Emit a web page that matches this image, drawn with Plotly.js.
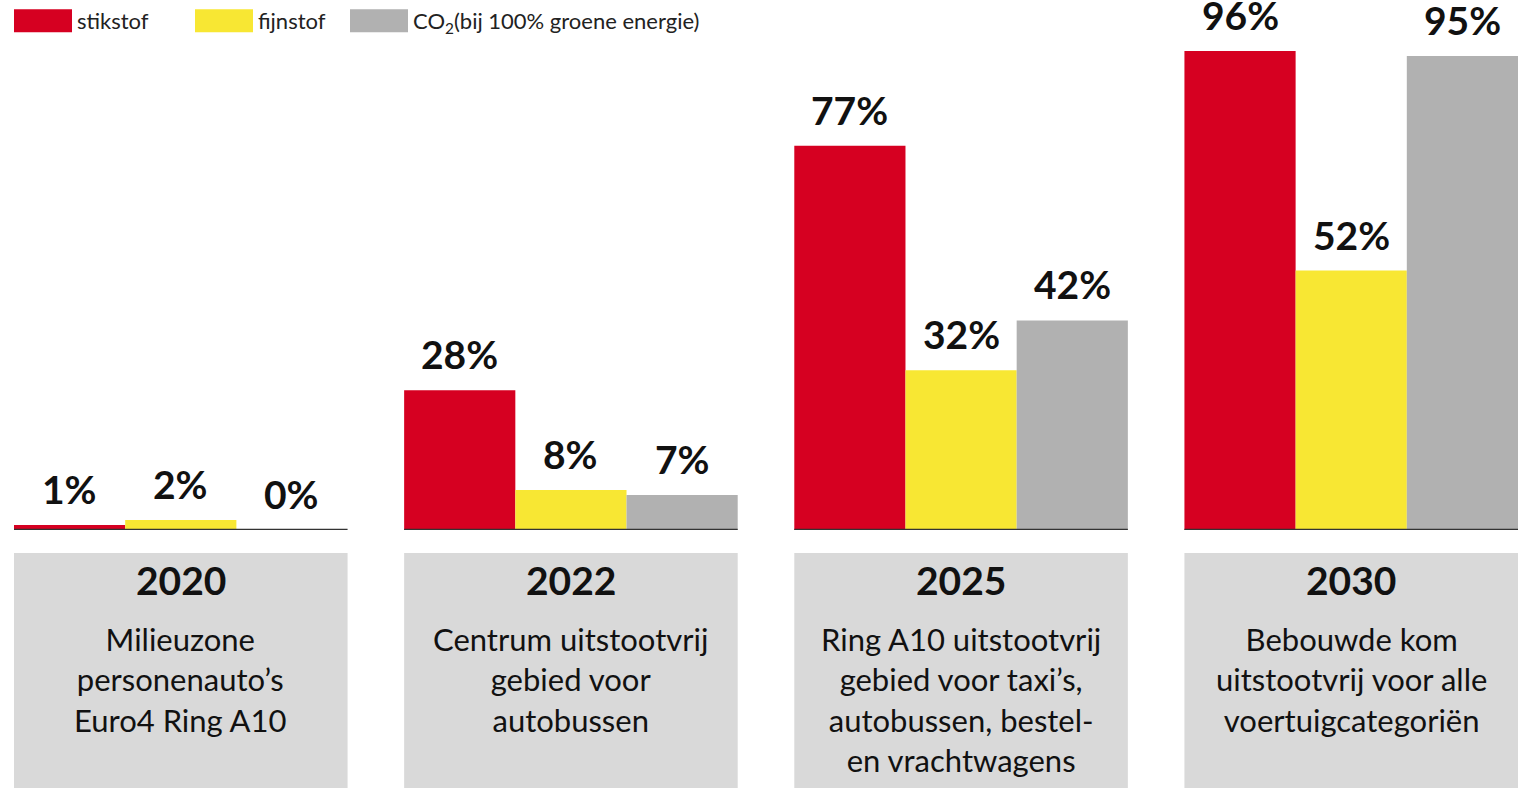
<!DOCTYPE html>
<html>
<head>
<meta charset="utf-8">
<script src="https://cdn.plot.ly/plotly-3.0.1.min.js"></script>
<style>
html,body{margin:0;padding:0;background:#fff;}
#chart{width:1518px;height:788px;}
</style>
</head>
<body>
<div id="chart"></div>
<script>
// ---- data ----
const years = ["2020", "2022", "2025", "2030"];
const descriptions = [
  "Milieuzone<br>personenauto’s<br>Euro4 Ring A10",
  "Centrum uitstootvrij<br>gebied voor<br>autobussen",
  "Ring A10 uitstootvrij<br>gebied voor taxi’s,<br>autobussen, bestel-<br>en vrachtwagens",
  "Bebouwde kom<br>uitstootvrij voor alle<br>voertuigcategoriën"
];
const seriesNames = ["stikstof", "fijnstof", "CO<sub>2</sub>(bij 100% groene energie)"];
const stikstof = [1, 28, 77, 96];
const fijnstof = [2, 8, 32, 52];
const co2 = [0, 7, 42, 95];

// ---- style ----
const colors = ["#d60021", "#f8e733", "#b1b1b1"];
const FONT = "Lato, 'Open Sans', sans-serif";
const bargap = 0.145;
const half = (1 - bargap) / 2;
const barW = (1 - bargap) / 3;
const legendLeft = [14, 195, 350];   // px positions of legend swatches

const seriesValues = [stikstof, fijnstof, co2];
const traces = seriesValues.map((vals, k) => ({
  type: "bar",
  name: seriesNames[k],
  x: years.map((_, i) => i),
  y: vals,
  width: barW,
  offset: -half + k * barW,
  marker: {color: colors[k], line: {width: 0}},
  hoverinfo: "skip"
}));

const shapes = [];
const annotations = [];
years.forEach((yr, i) => {
  shapes.push({
    type: "rect", xref: "x", yref: "paper",
    x0: i - half, x1: i + half, y0: -0.046, y1: -0.52,
    fillcolor: "#d9d9d9", line: {width: 0}, layer: "below"
  });
  shapes.push({
    type: "line", xref: "x", yref: "y",
    x0: i - half, x1: i + half, y0: 0, y1: 0,
    line: {color: "#333", width: 2.5}, layer: "above"
  });
  annotations.push({
    xref: "x", yref: "paper", x: i, y: -0.1, yanchor: "middle",
    text: "<b>" + yr + "</b>", showarrow: false,
    font: {family: FONT, size: 39, color: "#111"}
  });
  annotations.push({
    xref: "x", yref: "paper", x: i, y: -0.176, yanchor: "top",
    text: descriptions[i], showarrow: false, align: "center",
    font: {family: FONT, size: 31, color: "#111"}
  });
});
// value labels above bars
seriesValues.forEach((vals, k) => {
  vals.forEach((v, i) => {
    annotations.push({
      xref: "x", yref: "y", x: i - half + (k + 0.5) * barW, y: v,
      yanchor: "bottom", yshift: 11, showarrow: false,
      text: "<b>" + v + "%</b>",
      font: {family: FONT, size: 39, color: "#111"}
    });
  });
});

const layout = {
  width: 1518, height: 788,
  margin: {l: 14, r: 0, t: 30, b: 258},
  paper_bgcolor: "#fff", plot_bgcolor: "#fff",
  barmode: "overlay",
  xaxis: {range: [-0.4275, 3.4275], showticklabels: false,
          showgrid: false, zeroline: false, showline: false, fixedrange: true},
  yaxis: {range: [0, 100], showticklabels: false, showgrid: false,
          zeroline: false, showline: false, fixedrange: true},
  showlegend: true,
  legend: {orientation: "h", x: 0, xanchor: "left", y: 1.02, yanchor: "middle",
           itemwidth: 58, font: {family: FONT, size: 22, color: "#222"},
           bgcolor: "rgba(0,0,0,0)", traceorder: "normal", itemclick: false},
  shapes: shapes,
  annotations: annotations,
  font: {family: FONT}
};

Plotly.newPlot("chart", traces, layout, {displayModeBar: false, staticPlot: true}).then(gd => {
  gd.querySelectorAll(".legend, .legend *").forEach(el => el.removeAttribute("clip-path"));
  const items = gd.querySelectorAll(".legend .traces");
  items.forEach((g, k) => {
    const p = g.querySelector(".legendpoints path");
    if (!p) return;
    p.setAttribute("d", "M29,11.5H-29V-11.5H29Z");
    const left = p.getBoundingClientRect().left;
    const m = /translate\(\s*([-\d.]+)[ ,]+([-\d.]+)\s*\)/.exec(g.getAttribute("transform") || "");
    const tx = m ? parseFloat(m[1]) : 0, ty = m ? parseFloat(m[2]) : 0;
    g.setAttribute("transform", "translate(" + (tx + legendLeft[k] - left) + "," + ty + ")");
  });
});
</script>
</body>
</html>
